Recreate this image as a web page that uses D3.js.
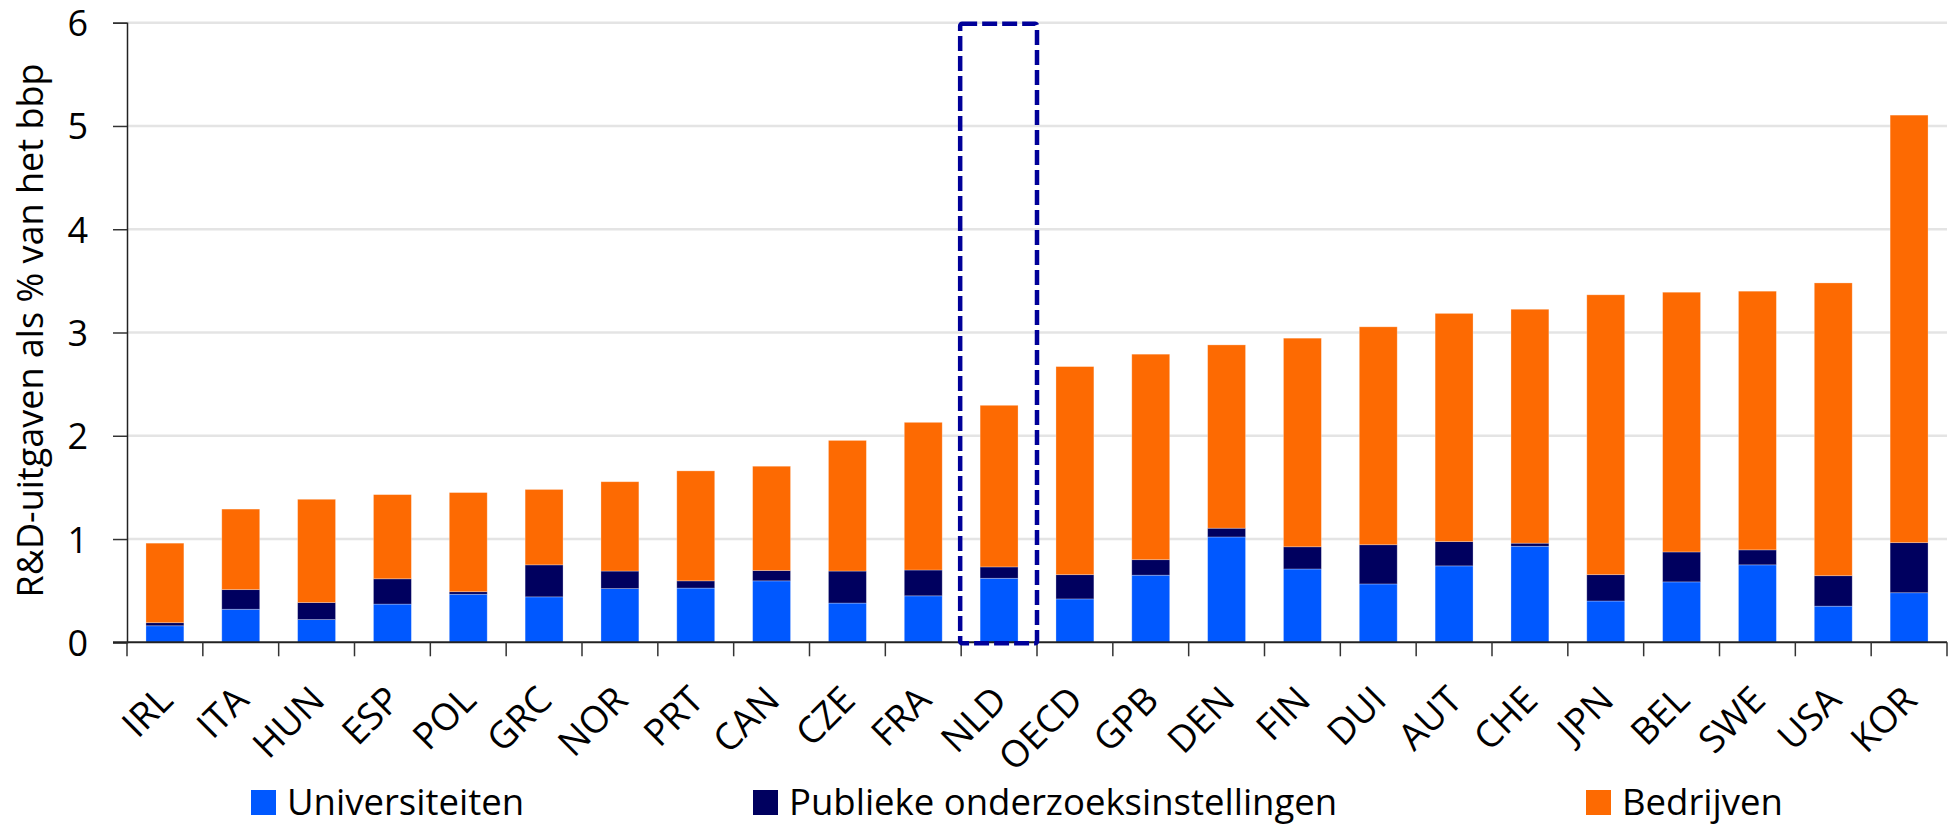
<!DOCTYPE html>
<html>
<head>
<meta charset="utf-8">
<script src="https://cdn.jsdelivr.net/npm/d3@7"></script>
<style>
  html, body { margin: 0; padding: 0; background: #fff; }
  svg { display: block; }
  text { font-family: "Open Sans", "Noto Sans", sans-serif; fill: #000; }
</style>
</head>
<body>
<svg id="chart" width="1952" height="825"></svg>
<script>
const categories = ["IRL","ITA","HUN","ESP","POL","GRC","NOR","PRT","CAN","CZE","FRA","NLD","OECD","GPB","DEN","FIN","DUI","AUT","CHE","JPN","BEL","SWE","USA","KOR"];
const universiteiten = [0.16,0.32,0.22,0.37,0.465,0.44,0.52,0.525,0.595,0.38,0.45,0.62,0.42,0.65,1.02,0.71,0.565,0.74,0.93,0.40,0.585,0.75,0.35,0.48];
const publiekeInstellingen = [0.03,0.19,0.165,0.245,0.025,0.31,0.17,0.07,0.10,0.31,0.25,0.11,0.235,0.15,0.085,0.215,0.38,0.235,0.03,0.255,0.29,0.145,0.295,0.485];
const bedrijven = [0.77,0.78,1.00,0.815,0.96,0.73,0.865,1.065,1.01,1.265,1.43,1.565,2.015,1.99,1.775,2.02,2.11,2.21,2.265,2.71,2.515,2.505,2.835,4.14];
const seriesNames = ["Universiteiten","Publieke onderzoeksinstellingen","Bedrijven"];
const seriesKeys = ["uni","pub","bed"];
const seriesColors = ["#0058ff","#00005f","#fd6a02"];
const yTicks = [0,1,2,3,4,5,6];
const highlighted = "NLD";
const yTitle = "R&D-uitgaven als % van het bbp";

(function(){
const table = categories.map((c,i)=>({cat:c, uni:universiteiten[i], pub:publiekeInstellingen[i], bed:bedrijven[i]}));

const svg = d3.select("#chart");
const pL = 127, pR = 1947, pT = 22.7, pB = 642.3;

const x = d3.scaleBand().domain(categories).range([pL,pR]).paddingInner(0.5).paddingOuter(0.25);
const xb = d3.scaleBand().domain(categories).range([pL,pR]).padding(0);
const y = d3.scaleLinear().domain([0,6]).range([pB,pT]);

// gridlines
svg.append("g").selectAll("line").data(yTicks.filter(d=>d>0)).join("line")
  .attr("x1", pL).attr("x2", pR)
  .attr("y1", d=>y(d)).attr("y2", d=>y(d))
  .attr("stroke", "#e4e4e4").attr("stroke-width", 2.5);

// bars
const stack = d3.stack().keys(seriesKeys)(table);
const color = d3.scaleOrdinal().domain(seriesKeys).range(seriesColors);
svg.append("g").selectAll("g").data(stack).join("g")
  .attr("fill", d=>color(d.key))
  .selectAll("rect").data(d=>d).join("rect")
  .attr("x", d=>x(d.data.cat))
  .attr("width", x.bandwidth())
  .attr("y", d=>y(d[1]))
  .attr("height", d=>y(d[0])-y(d[1]))
  .attr("stroke", "rgba(255,255,255,0.35)")
  .attr("stroke-width", 0.8);

// y axis
const yAxis = d3.axisLeft(y).tickValues(yTicks).tickSize(14).tickPadding(25).tickFormat(d3.format("d"));
const gy = svg.append("g").attr("transform", `translate(${pL},0)`).call(yAxis);
gy.select(".domain").attr("stroke", "#222").attr("stroke-width", 1.5);
gy.selectAll(".tick line").attr("stroke", "#333").attr("stroke-width", 1.5);
gy.selectAll(".tick text").attr("font-size", 36).attr("font-family", "Open Sans").attr("fill", "#000").attr("dy", "0.36em");

// x axis
const xAxis = d3.axisBottom(xb).tickSize(0).tickFormat("");
const gx = svg.append("g").attr("transform", `translate(0,${pB})`).call(xAxis);
gx.select(".domain").remove();
gx.selectAll(".tick").remove();
gx.append("line").attr("x1", pL-14).attr("x2", pR).attr("y1", 0).attr("y2", 0)
  .attr("stroke", "#222").attr("stroke-width", 2);
const bounds = categories.map(c=>xb(c)).concat([pR]);
gx.selectAll("line.bt").data(bounds).join("line").attr("class","bt")
  .attr("x1", d=>d).attr("x2", d=>d).attr("y1", 0).attr("y2", 14)
  .attr("stroke", "#333").attr("stroke-width", 1.5);
gx.selectAll("text.lbl").data(categories).join("text").attr("class","lbl")
  .attr("transform", d=>`translate(${xb(d)+xb.bandwidth()/2+10},${60}) rotate(-45)`)
  .attr("text-anchor","end")
  .attr("font-size", 37)
  .text(d=>d);

// y title
svg.append("text")
  .attr("transform", `translate(43,${(pT+pB)/2 - 2}) rotate(-90)`)
  .attr("text-anchor","middle")
  .attr("font-size", 36)
  .text(yTitle);

// highlight box
svg.append("rect")
  .attr("x", xb(highlighted)-1).attr("width", xb.bandwidth()+1)
  .attr("y", y(6)+1).attr("height", y(0)-y(6))
  .attr("fill","none").attr("stroke","#000099").attr("stroke-width",4.5)
  .attr("stroke-dasharray","15,5").attr("rx",2);

// legend
const legendX = [251, 753, 1586];
const lg = svg.append("g").selectAll("g").data(seriesNames).join("g")
  .attr("transform", (d,i)=>`translate(${legendX[i]},790)`);
lg.append("rect").attr("width",25).attr("height",25).attr("fill",(d,i)=>seriesColors[i]);
lg.append("text").attr("x",36).attr("y",25).attr("font-size",36.5).text(d=>d);
})();
</script>
</body>
</html>
